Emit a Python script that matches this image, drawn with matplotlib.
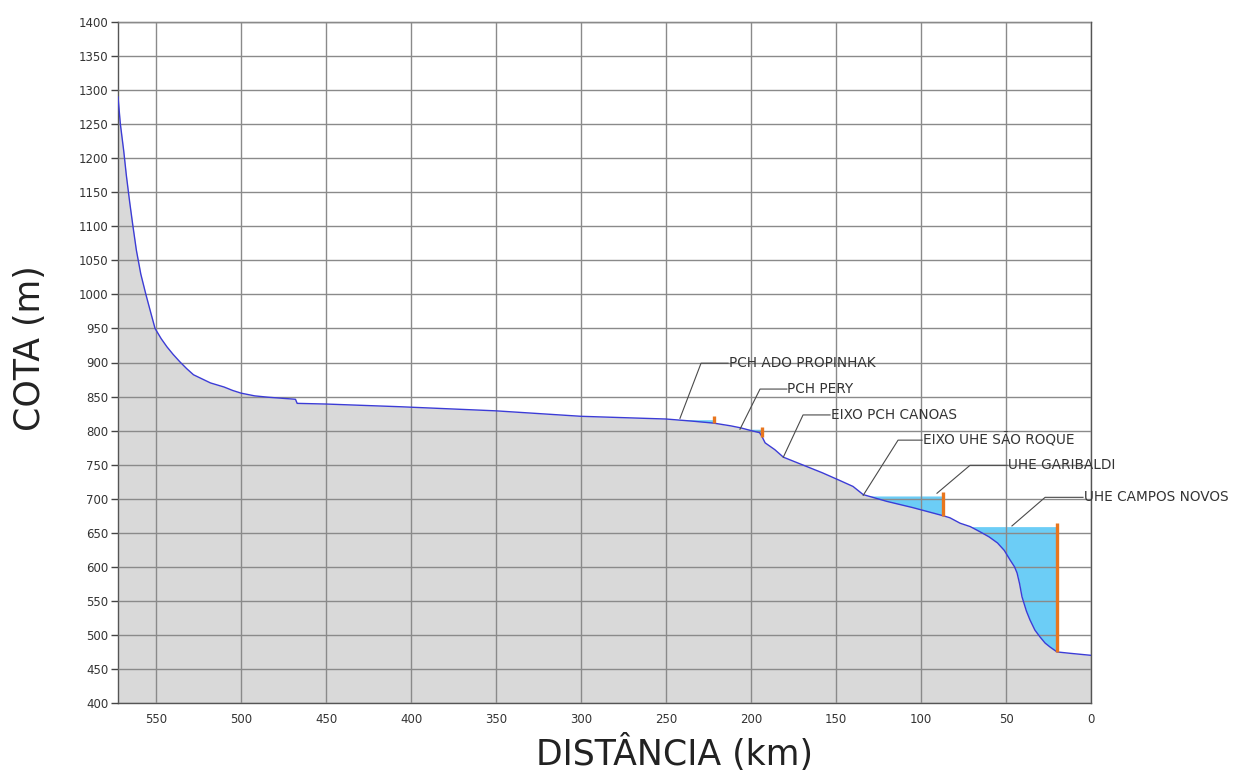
import numpy as np
import matplotlib
matplotlib.use("Agg")
import matplotlib.pyplot as plt

plt.rcParams['font.family'] = ['DejaVu Sans']

# longitudinal profile of the river: distance to the mouth (km) and bed elevation (m)
dist = [572.4, 571.0, 569.0, 567.5, 565.5, 563.6, 561.6, 559.0, 556.0, 553.0,
        550.6, 547.0, 543.6, 540.0, 536.0, 532.0, 528.0, 523.0, 518.0, 510.0,
        505.0, 500.0, 492.0, 484.0, 468.0, 467.0, 450.0, 406.0, 350.0, 300.0,
        250.0, 235.0, 222.0, 212.0, 206.0, 200.0, 195.0, 193.5, 191.7, 186.0,
        181.0, 175.0, 167.0, 158.0, 148.0, 140.0, 134.0, 120.0, 105.0, 87.0,
        83.0, 77.0, 71.0, 65.0, 60.0, 55.0, 51.0, 47.6, 45.0, 43.5,
        42.0, 40.6, 38.0, 35.9, 33.0, 30.0, 27.0, 24.0, 20.0, 12.4,
        0.0]
cota = [1290, 1250, 1210, 1175, 1135, 1100, 1065, 1030, 1000, 972,
        950, 935, 923, 912, 901, 891, 882, 876, 870, 864,
        859, 855, 851, 849, 846, 840, 839, 835, 829, 821,
        817, 814, 811, 807, 804, 800, 797, 791, 782, 772,
        761, 755, 747, 738, 727, 718, 706, 696, 687, 675,
        672, 664, 659, 651, 644, 635, 624, 610, 600, 591,
        575, 556, 535, 522, 507, 497, 488, 482, 475, 473,
        470]

# reservoirs: dam position (km), water level (m), dam crest (m)
dam_names = ["PCH ADO PROPINHAK", "PCH PERY", "UHE GARIBALDI", "UHE CAMPOS NOVOS"]
dam_km = [222.0, 193.5, 87.0, 20.0]
water_level = [816, 802, 704, 659]
dam_crest = [822, 805, 710, 664]
res_start = [250.0, 206.0, 134.0, 72.0]

# callouts: label, pointed location, elbow, end of the horizontal run
notes = [
    ("PCH ADO PROPINHAK", (241.8, 818), (229.4, 899), 213.5),
    ("PCH PERY", (206.5, 802), (194.7, 861), 178.9),
    ("EIXO PCH CANOAS", (181.0, 761), (169.4, 823), 153.5),
    ("EIXO UHE SÃO ROQUE", (134.0, 705), (113.5, 786), 99.4),
    ("UHE GARIBALDI", (90.6, 708), (71.2, 749), 49.4),
    ("UHE CAMPOS NOVOS", (46.5, 660), (27.0, 702), 4.7),
]

d = np.array(dist)
z = np.array(cota, dtype=float)

fig = plt.figure(figsize=(12.33, 7.71), dpi=100)
ax = fig.add_axes([118/1233, 1 - 703/771, (1091-118)/1233, (703-22)/771])

ax.fill_between(d, z, 400, color="#d9d9d9", lw=0, zorder=1)

for k in range(len(dam_km)):
    m = (d <= res_start[k]) & (d >= dam_km[k])
    ax.fill_between(d, z, water_level[k], where=m & (z <= water_level[k]),
                    interpolate=True, color="#6ccdf6", lw=0, zorder=1.2)

ax.plot(d, z, color="#3c3cd6", lw=1.0, zorder=3)

for k in range(len(dam_km)):
    base = np.interp(dam_km[k], d[::-1], z[::-1])
    ax.plot([dam_km[k], dam_km[k]], [base, dam_crest[k]], color="#e8761e",
            lw=2.4, solid_capstyle="butt", zorder=4)

for label, p0, p1, xend in notes:
    ax.plot([p0[0], p1[0], xend], [p0[1], p1[1], p1[1]], color="#4a4a4a",
            lw=0.8, zorder=5, clip_on=False)
    ax.text(xend - 0.3, p1[1], label, fontsize=9.8, color="#333333",
            ha="left", va="center", zorder=5, clip_on=False)

ax.set_xlim(572.4, 0)
ax.set_ylim(400, 1400)
ax.set_xticks(np.arange(550, -1, -50))
ax.set_yticks(np.arange(400, 1401, 50))
ax.set_axisbelow(False)
ax.grid(True, color="#8a8a8a", lw=1.0)
ax.tick_params(axis="x", length=0, pad=7, labelsize=8.5, labelcolor="#333333")
ax.tick_params(axis="y", length=5, width=1, color="#444444", pad=2,
               labelsize=8.5, labelcolor="#333333")
for s in ax.spines.values():
    s.set_color("#555555")
    s.set_linewidth(1.0)

fig.text(30/1233, 1 - 348/771, "COTA (m)", rotation=90, fontsize=25,
         ha="center", va="center", color="#222222")
fig.text(674/1233, 1 - 753/771, "DISTÂNCIA (km)", fontsize=25,
         ha="center", va="center", color="#222222")

fig.savefig("out.png", dpi=100)
